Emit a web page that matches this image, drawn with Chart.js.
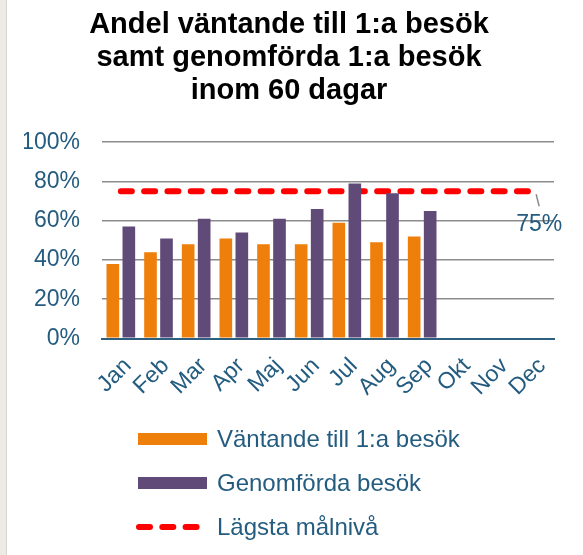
<!DOCTYPE html>
<html lang="sv">
<head>
    <meta charset="UTF-8" />
    <title>Andel väntande till 1:a besök</title>
    <script src="https://cdn.jsdelivr.net/npm/chart.js"></script>
    <style>
        html, body {
            margin: 0;
            padding: 0;
            background: #fff;
        }
        .wrap {
            width: 583px;
            height: 555px;
            position: relative;
            background: linear-gradient(to right, #edeae5 0, #edeae5 6px, #d6d6d6 6px, #d6d6d6 7px, #fff 7px);
        }
        canvas {
            display: block;
        }
    </style>
</head>
<body>
<div class="wrap">
    <canvas id="chart" width="583" height="555"></canvas>
</div>

<script>
// data
const months = ['Jan', 'Feb', 'Mar', 'Apr', 'Maj', 'Jun', 'Jul', 'Aug', 'Sep', 'Okt', 'Nov', 'Dec'];
const vantande = [38, 44, 48, 51, 48, 48, 59, 49, 52, null, null, null];
const genomforda = [57, 51, 61, 54, 61, 66, 79, 74, 65, null, null, null];
const malniva = [75, 75, 75, 75, 75, 75, 75, 75, 75, 75, 75, 75];
const yTicks = [0, 20, 40, 60, 80, 100];

const blue = '#245c80';
const fontFam = "'Liberation Sans', Arial, sans-serif";
Chart.defaults.font.family = fontFam;
Chart.defaults.color = blue;

// label "75%" at the end of the target line
const endLabel = {
    id: 'endLabel',
    afterDatasetsDraw(chart) {
        const meta = chart.getDatasetMeta(2);
        const pts = meta.data;
        const last = pts[pts.length - 1];
        const val = chart.data.datasets[2].data[pts.length - 1];
        const ctx = chart.ctx;
        ctx.save();
        ctx.strokeStyle = '#8c8c8c';
        ctx.lineWidth = 1.5;
        ctx.beginPath();
        ctx.moveTo(last.x + 1, last.y + 3);
        ctx.lineTo(last.x + 4, last.y + 15);
        ctx.stroke();
        ctx.fillStyle = blue;
        ctx.font = '23px ' + fontFam;
        ctx.textAlign = 'center';
        ctx.textBaseline = 'middle';
        ctx.fillText(val + '%', last.x + 4, last.y + 33);
        ctx.restore();
    }
};

// vertical legend, left aligned under the chart
const blockLegend = {
    id: 'blockLegend',
    afterDraw(chart) {
        const ctx = chart.ctx;
        const x0 = 138, tx = 217, y0 = 439, step = 44;
        ctx.save();
        ctx.font = '24px ' + fontFam;
        ctx.textBaseline = 'middle';
        ctx.textAlign = 'left';
        chart.data.datasets.forEach((ds, i) => {
            const y = y0 + i * step;
            if (ds.type === 'line') {
                ctx.strokeStyle = ds.borderColor;
                ctx.lineWidth = ds.borderWidth;
                ctx.lineCap = 'round';
                ctx.setLineDash(ds.borderDash);
                ctx.beginPath();
                ctx.moveTo(x0 + 1, y);
                ctx.lineTo(x0 + 63, y);
                ctx.stroke();
                ctx.setLineDash([]);
            } else {
                ctx.fillStyle = ds.backgroundColor;
                ctx.fillRect(x0, y - 6, 69, 12);
            }
            ctx.fillStyle = blue;
            ctx.fillText(ds.label, tx, y + 1);
        });
        ctx.restore();
    }
};

new Chart(document.getElementById('chart'), {
    type: 'bar',
    data: {
        labels: months,
        datasets: [{
            label: 'Väntande till 1:a besök',
            data: vantande,
            backgroundColor: '#ef7f0b',
            categoryPercentage: 0.85,
            barPercentage: 0.79
        }, {
            label: 'Genomförda besök',
            data: genomforda,
            backgroundColor: '#604a78',
            categoryPercentage: 0.85,
            barPercentage: 0.79
        }, {
            type: 'line',
            label: 'Lägsta målnivå',
            data: malniva,
            borderColor: '#ff0000',
            borderWidth: 6,
            borderDash: [11, 12.3],
            borderCapStyle: 'round',
            pointRadius: 0,
            fill: false
        }]
    },
    options: {
        responsive: false,
        animation: false,
        layout: {
            padding: { left: 24, right: 29, top: 0, bottom: 140 }
        },
        plugins: {
            legend: { display: false },
            tooltip: { enabled: false },
            title: {
                display: true,
                text: ['Andel väntande till 1:a besök', 'samt genomförda 1:a besök', 'inom 60 dagar'],
                color: '#000',
                font: { size: 29, weight: 'bold', lineHeight: 1.14 },
                padding: { top: 8, bottom: 35 }
            }
        },
        scales: {
            x: {
                grid: { display: false, drawTicks: false },
                border: { display: true, color: '#2f5f80', width: 2 },
                ticks: {
                    color: blue,
                    font: { size: 23 },
                    minRotation: 45,
                    maxRotation: 45,
                    padding: 14,
                    labelOffset: 7,
                    autoSkip: false
                }
            },
            y: {
                min: 0,
                max: 100,
                afterBuildTicks: axis => {
                    axis.ticks = yTicks.map(v => ({ value: v }));
                },
                afterFit: s => { s.width = 78; },
                grid: {
                    drawTicks: false,
                    color: c => (c.tick && c.tick.value === 0) ? '#2f5f80' : '#8c8c8c',
                    lineWidth: c => (c.tick && c.tick.value === 0) ? 2 : 1.6
                },
                border: { display: false },
                ticks: {
                    color: blue,
                    font: { size: 23 },
                    padding: 22,
                    callback: v => v + '%'
                }
            }
        }
    },
    plugins: [endLabel, blockLegend]
});
</script>
</body>
</html>
